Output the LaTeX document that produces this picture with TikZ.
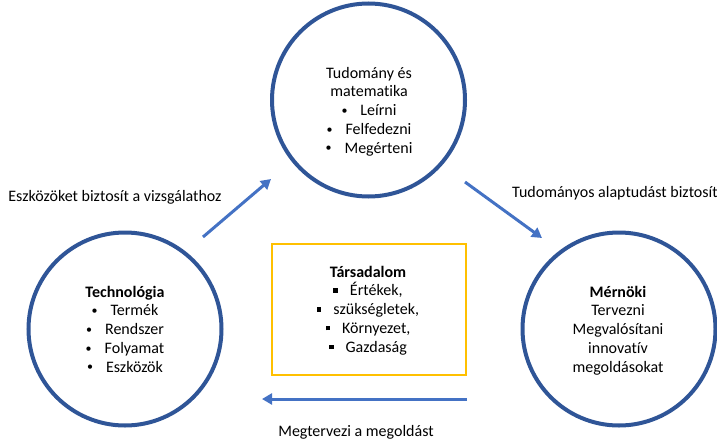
\documentclass[tikz,border=0pt]{standalone}
\usepackage{fontspec}
\setmainfont[Ligatures={NoCommon}]{Carlito}
\usetikzlibrary{arrows.meta}
\definecolor{circblue}{HTML}{2F5597}
\definecolor{arrblue}{HTML}{4472C4}
\definecolor{boxyellow}{HTML}{FFC000}
\tikzset{
  ring/.style={circle, draw=circblue, line width=4pt, minimum size=193pt, inner sep=0pt},
  flow/.style={draw=arrblue, line width=3pt, -{Triangle[length=10pt,width=11pt]}},
  txt/.style={font=\fontsize{16}{18.75}\selectfont, align=center, inner sep=0pt, text=black},
}
\newcommand{\bul}{\raisebox{1.2pt}{\scalebox{0.75}{\textbullet}}\hspace{13pt}}
\newcommand{\sqb}{\raisebox{3pt}{\rule{4.5pt}{4.5pt}}\hspace{12pt}}
\begin{document}
\begin{tikzpicture}[x=1pt,y=-1pt]
\useasboundingbox (0,0) rectangle (717,439);
\node[ring] (sci) at (368.5,100) {};
\node[ring] (tech) at (125,329) {};
\node[ring] (eng) at (619,329) {};
\node[draw=boxyellow, line width=2pt, minimum width=194pt, minimum height=131pt, inner sep=0pt] (soc) at (368.5,309) {};

\node[txt, anchor=base] (scit) at (369,153) {Tudomány és\\matematika\\\bul Leírni\\\bul Felfedezni\\\bul Megérteni};
\node[txt, anchor=base] (techt) at (125,372) {\textbf{Technológia}\\\bul Termék\\\bul Rendszer\\\bul Folyamat\\\bul Eszközök};
\node[txt, anchor=base] (engt) at (618,372) {\textbf{Mérnöki}\\Tervezni\\Megvalósítani\\innovatív\\megoldásokat};
\node[txt, anchor=base] (soct) at (368,352) {\textbf{Társadalom}\\\sqb Értékek,\\\sqb szükségletek,\\\sqb Környezet,\\\sqb Gazdaság};

\coordinate (a1s) at (203,237);
\coordinate (a1e) at (271,179);
\coordinate (a2s) at (465,182);
\coordinate (a2e) at (542,238);
\coordinate (a3s) at (467,399);
\coordinate (a3e) at (262,399);
\draw[flow] (a1s) -- (a1e);
\draw[flow] (a2s) -- (a2e);
\draw[flow] (a3s) -- (a3e);

\node[txt, anchor=base] (l1) at (115,201) {Eszközöket biztosít a vizsgálathoz};
\node[txt, anchor=base] (l2) at (615,197) {Tudományos alaptudást biztosít};
\node[txt, anchor=base] (l3) at (356,436) {Megtervezi a megoldást};
\end{tikzpicture}
\end{document}
